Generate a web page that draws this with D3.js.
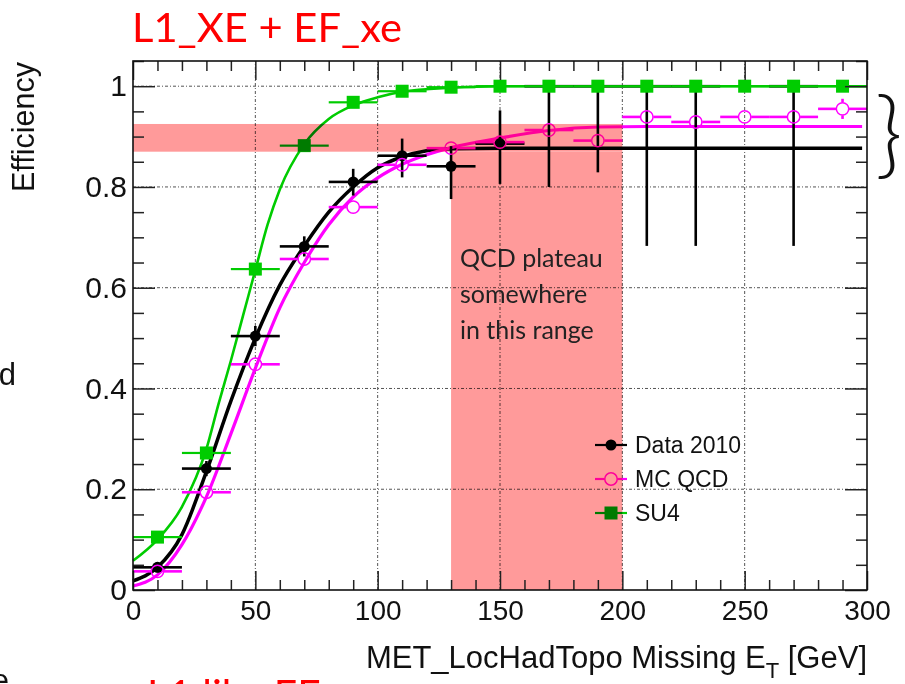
<!DOCTYPE html>
<html>
<head>
<meta charset="utf-8">
<script src="https://cdn.jsdelivr.net/npm/d3@7"></script>
<style>
    html, body { margin: 0; padding: 0; background: #fff; }
    svg { display: block; }
    .axis text { font-family: "Liberation Sans", Arial, sans-serif; fill: #111; }
    .axis line { stroke: #222; stroke-width: 1.5; }
    .axis path { display: none; }
</style>
</head>
<body>
<div id="chart"></div>
<script>
/* -----------------------------
   1. Data
------------------------------*/
const binCenters = [10, 30, 50, 70, 90, 110, 130, 150, 170, 190, 210, 230, 250, 270, 290];
const binWidth = 20;

// Data 2010 (null = empty bin)
const data2010        = [0.045, 0.241, 0.504, 0.682, 0.810, 0.862, 0.841, 0.886, 1, 1, 1, 1, null, 1, null];
const data2010ErrLow  = [0.010, 0.015, 0.020, 0.020, 0.027, 0.043, 0.065, 0.080, 0.200, 0.171, 0.317, 0.317, null, 0.317, null];
const data2010ErrHigh = [0.010, 0.015, 0.020, 0.020, 0.026, 0.034, 0.040, 0.066, 0, 0, 0, 0, null, 0, null];

// MC QCD
const mcQcd    = [0.037, 0.194, 0.448, 0.657, 0.760, 0.844, 0.877, 0.889, 0.913, 0.892, 0.939, 0.929, 0.939, 0.939, 0.955];
const mcQcdErr = [0.005, 0.010, 0.012, 0.012, 0.012, 0.012, 0.012, 0.012, 0.012, 0.012, 0.012, 0.012, 0.012, 0.012, 0.020];

// SU4
const su4    = [0.105, 0.272, 0.637, 0.882, 0.968, 0.990, 0.998, 1, 1, 1, 1, 1, 1, 1, 1];
const su4Err = [0.006, 0.008, 0.008, 0.006, 0.004, 0.003, 0.002, 0, 0, 0, 0, 0, 0, 0, 0];

// fitted turn-on curves
const data2010FitX = [0, 10, 20, 30, 40, 50, 60, 70, 80, 90, 100, 110, 120, 130, 150, 298];
const data2010FitY = [0.018, 0.045, 0.110, 0.235, 0.375, 0.500, 0.605, 0.683, 0.750, 0.800, 0.838, 0.860, 0.872, 0.876, 0.877, 0.877];
const mcQcdFitX = [0, 10, 20, 30, 40, 50, 60, 70, 80, 90, 100, 110, 120, 130, 150, 170, 190, 210, 298];
const mcQcdFitY = [0.008, 0.030, 0.090, 0.185, 0.310, 0.440, 0.560, 0.650, 0.725, 0.780, 0.818, 0.845, 0.864, 0.878, 0.897, 0.912, 0.919, 0.920, 0.920];
const su4FitX = [0, 10, 20, 30, 35, 40, 45, 50, 55, 60, 70, 80, 90, 100, 110, 130, 150, 300];
const su4FitY = [0.058, 0.100, 0.165, 0.280, 0.370, 0.455, 0.545, 0.635, 0.725, 0.795, 0.885, 0.935, 0.962, 0.978, 0.989, 0.997, 1.000, 1.000];

// axes
const xMajorTicks = [0, 50, 100, 150, 200, 250, 300];
const xMinorTicks = [10, 20, 30, 40, 60, 70, 80, 90, 110, 120, 130, 140, 160, 170, 180, 190, 210, 220, 230, 240, 260, 270, 280, 290];
const yMajorTicks = [0, 0.2, 0.4, 0.6, 0.8, 1];
const yTickLabels = ["0", "0.2", "0.4", "0.6", "0.8", "1"];
const yMinorTicks = [0.05, 0.1, 0.15, 0.25, 0.3, 0.35, 0.45, 0.5, 0.55, 0.65, 0.7, 0.75, 0.85, 0.9, 0.95, 1.05];

// highlighted QCD plateau region
const plateauBand  = [0.87, 0.925];
const plateauRange = [130, 200];

const legendLabels = ["Data 2010", "MC QCD", "SU4"];
const qcdNote = ["QCD plateau", "somewhere", "in this range"];

/* -----------------------------
   2. Canvas + scales
------------------------------*/
const W = 905, H = 684;
const svg = d3.select('#chart').append('svg')
    .attr('width', W).attr('height', H)
    .attr('viewBox', `0 0 ${W} ${H}`);

svg.append('rect').attr('width', W).attr('height', H).attr('fill', '#fff');

const x = d3.scaleLinear().domain([0, 300]).range([133, 867]);
const y = d3.scaleLinear().domain([0, 1.05]).range([590, 61]);

const BLACK = '#000', MAGENTA = '#ff00ff', GREEN = '#00cc00';

/* -----------------------------
   3. Grid
------------------------------*/
const grid = svg.append('g')
    .attr('stroke', '#555')
    .attr('stroke-width', 1)
    .attr('stroke-dasharray', '3,2,1,2');

grid.selectAll('.gx')
    .data(xMajorTicks.slice(1, -1))
    .join('line')
    .attr('x1', d => x(d)).attr('x2', d => x(d))
    .attr('y1', y(0)).attr('y2', y(1.05));

grid.selectAll('.gy')
    .data(yMajorTicks.slice(1))
    .join('line')
    .attr('x1', x(0)).attr('x2', x(300))
    .attr('y1', d => y(d)).attr('y2', d => y(d));

/* -----------------------------
   4. Fit curves
------------------------------*/
const fitLine = d3.line()
    .x(d => x(d[0]))
    .y(d => y(d[1]))
    .curve(d3.curveMonotoneX);

function drawFit(xs, ys, color, width) {
    svg.append('path')
        .attr('d', fitLine(d3.zip(xs, ys)))
        .attr('fill', 'none')
        .attr('stroke', color)
        .attr('stroke-width', width);
}

drawFit(data2010FitX, data2010FitY, BLACK, 3.5);
drawFit(mcQcdFitX, mcQcdFitY, MAGENTA, 3.2);
drawFit(su4FitX, su4FitY, GREEN, 2.6);

/* -----------------------------
   5. Points with error bars
------------------------------*/
// error bars stop at the marker edge (gap = marker radius), like ROOT does
function drawSeries(vals, errLo, errHi, color, width, gap) {
    const pts = binCenters
        .map((c, i) => ({ c: c, v: vals[i], lo: errLo[i], hi: errHi[i] }))
        .filter(d => d.v !== null);

    const segs = [];
    pts.forEach(d => {
        const cx = x(d.c), cy = y(d.v);
        segs.push([x(d.c - binWidth / 2), cy, cx - gap, cy]);
        segs.push([cx + gap, cy, x(d.c + binWidth / 2), cy]);
        if (y(d.v + d.hi) < cy - gap) segs.push([cx, y(d.v + d.hi), cx, cy - gap]);
        if (y(d.v - d.lo) > cy + gap) segs.push([cx, cy + gap, cx, y(d.v - d.lo)]);
    });

    svg.append('g').attr('stroke', color).attr('stroke-width', width)
        .selectAll('line')
        .data(segs)
        .join('line')
        .attr('x1', s => s[0]).attr('y1', s => s[1])
        .attr('x2', s => s[2]).attr('y2', s => s[3]);

    return pts;
}

const blackPts = drawSeries(data2010, data2010ErrLow, data2010ErrHigh, BLACK, 2.6, 0);
svg.append('g').selectAll('circle')
    .data(blackPts)
    .join('circle')
    .attr('cx', d => x(d.c)).attr('cy', d => y(d.v))
    .attr('r', 5.5)
    .attr('fill', BLACK);

const mcPts = drawSeries(mcQcd, mcQcdErr, mcQcdErr, MAGENTA, 2.6, 6.5);
svg.append('g').selectAll('circle')
    .data(mcPts)
    .join('circle')
    .attr('cx', d => x(d.c)).attr('cy', d => y(d.v))
    .attr('r', 6.2)
    .attr('fill', 'none')
    .attr('stroke', MAGENTA)
    .attr('stroke-width', 1.5);

const su4Pts = drawSeries(su4, su4Err, su4Err, GREEN, 2.2, 0);
svg.append('g').selectAll('rect')
    .data(su4Pts)
    .join('rect')
    .attr('x', d => x(d.c) - 6.5).attr('y', d => y(d.v) - 6.5)
    .attr('width', 13).attr('height', 13)
    .attr('fill', GREEN);

/* -----------------------------
   6. Legend
------------------------------*/
const legendColors = [BLACK, MAGENTA, GREEN];
const legend = svg.append('g');
const item = legend.selectAll('g')
    .data(legendLabels)
    .join('g')
    .attr('transform', (d, i) => `translate(611, ${445 + i * 34})`);

item.append('line')
    .attr('x1', -16).attr('x2', 16)
    .attr('stroke', (d, i) => legendColors[i])
    .attr('stroke-width', 2.2);

item.each(function (d, i) {
    const it = d3.select(this);
    if (i === 0) it.append('circle').attr('r', 5.5).attr('fill', BLACK);
    if (i === 1) it.append('circle').attr('r', 6.2).attr('fill', '#fff').attr('stroke', MAGENTA).attr('stroke-width', 1.5);
    if (i === 2) it.append('rect').attr('x', -6.5).attr('y', -6.5).attr('width', 13).attr('height', 13).attr('fill', GREEN);
});

item.append('text')
    .attr('x', 24).attr('dy', '0.36em')
    .attr('font-family', '"Liberation Sans", Arial, sans-serif')
    .attr('font-size', 23)
    .attr('fill', '#111')
    .text(d => d);

/* -----------------------------
   7. QCD plateau shading (multiplied over the plot)
------------------------------*/
const shade = svg.append('g').style('mix-blend-mode', 'multiply');
shade.append('rect')
    .attr('x', x(0)).attr('width', x(plateauRange[1]) - x(0))
    .attr('y', y(plateauBand[1])).attr('height', y(plateauBand[0]) - y(plateauBand[1]))
    .attr('fill', '#ff9a9a');
shade.append('rect')
    .attr('x', x(plateauRange[0])).attr('width', x(plateauRange[1]) - x(plateauRange[0]))
    .attr('y', y(plateauBand[0])).attr('height', y(0) - y(plateauBand[0]))
    .attr('fill', '#ff9a9a');

svg.append('g').selectAll('text')
    .data(qcdNote)
    .join('text')
    .attr('x', 460)
    .attr('y', (d, i) => 267 + i * 36)
    .attr('font-family', 'Lato, "Open Sans", sans-serif')
    .attr('font-size', 25)
    .attr('fill', '#222')
    .text(d => d);

/* -----------------------------
   8. Axes + frame
------------------------------*/
svg.append('g').attr('class', 'axis')
    .attr('transform', `translate(0, ${y(0)})`)
    .call(d3.axisBottom(x).tickValues(xMajorTicks).tickSize(-19).tickPadding(10).tickFormat(d3.format('d')))
    .selectAll('text').attr('font-size', 28);
svg.append('g').attr('class', 'axis')
    .attr('transform', `translate(0, ${y(0)})`)
    .call(d3.axisBottom(x).tickValues(xMinorTicks).tickSize(-10).tickFormat(''));
svg.append('g').attr('class', 'axis')
    .attr('transform', `translate(0, ${y(1.05)})`)
    .call(d3.axisTop(x).tickValues(xMajorTicks).tickSize(-19).tickFormat(''));
svg.append('g').attr('class', 'axis')
    .attr('transform', `translate(0, ${y(1.05)})`)
    .call(d3.axisTop(x).tickValues(xMinorTicks).tickSize(-10).tickFormat(''));

svg.append('g').attr('class', 'axis')
    .attr('transform', `translate(${x(0)}, 0)`)
    .call(d3.axisLeft(y).tickValues(yMajorTicks).tickSize(-22).tickPadding(6)
        .tickFormat((d, i) => yTickLabels[i]))
    .selectAll('text').attr('font-size', 30);
svg.append('g').attr('class', 'axis')
    .attr('transform', `translate(${x(0)}, 0)`)
    .call(d3.axisLeft(y).tickValues(yMinorTicks).tickSize(-11).tickFormat(''));
svg.append('g').attr('class', 'axis')
    .attr('transform', `translate(${x(300)}, 0)`)
    .call(d3.axisRight(y).tickValues(yMajorTicks).tickSize(-22).tickFormat(''));
svg.append('g').attr('class', 'axis')
    .attr('transform', `translate(${x(300)}, 0)`)
    .call(d3.axisRight(y).tickValues(yMinorTicks).tickSize(-11).tickFormat(''));

svg.append('rect')
    .attr('x', x(0)).attr('y', y(1.05))
    .attr('width', x(300) - x(0)).attr('height', y(0) - y(1.05))
    .attr('fill', 'none')
    .attr('stroke', '#111')
    .attr('stroke-width', 1.6);

// axis titles
const xTitle = svg.append('text')
    .attr('x', 867).attr('y', 668)
    .attr('text-anchor', 'end')
    .attr('font-family', '"Liberation Sans", Arial, sans-serif')
    .attr('font-size', 31)
    .attr('fill', '#111');
xTitle.append('tspan').text('MET_LocHadTopo Missing E');
xTitle.append('tspan').attr('font-size', 22).attr('dy', 10).text('T');
xTitle.append('tspan').attr('dy', -10).text(' [GeV]');

svg.append('text')
    .attr('transform', 'translate(34, 62) rotate(-90)')
    .attr('text-anchor', 'end')
    .attr('font-family', '"Liberation Sans", Arial, sans-serif')
    .attr('font-size', 30.5)
    .attr('fill', '#111')
    .text('Efficiency');

/* -----------------------------
   9. Slide annotations
------------------------------*/
svg.append('text')
    .attr('x', 132).attr('y', 42)
    .attr('font-family', 'Lato, "Open Sans", sans-serif')
    .attr('font-size', 41)
    .attr('fill', '#ff0000')
    .attr('textLength', 270)
    .attr('lengthAdjust', 'spacingAndGlyphs')
    .text('L1_XE + EF_xe');

svg.append('text')
    .attr('x', 875).attr('y', 166)
    .attr('font-family', 'Lato, "Open Sans", sans-serif')
    .attr('font-weight', 300)
    .attr('font-size', 94)
    .attr('fill', '#111')
    .text('}');

svg.append('text')
    .attr('x', 16).attr('y', 385)
    .attr('text-anchor', 'end')
    .attr('font-family', '"Liberation Sans", Arial, sans-serif')
    .attr('font-size', 31)
    .attr('fill', '#111')
    .text('d');

svg.append('text')
    .attr('x', 9).attr('y', 691)
    .attr('text-anchor', 'end')
    .attr('font-family', '"Liberation Sans", Arial, sans-serif')
    .attr('font-size', 31)
    .attr('fill', '#111')
    .text('e');

svg.append('text')
    .attr('x', 147).attr('y', 709)
    .attr('font-family', 'Lato, "Open Sans", sans-serif')
    .attr('font-size', 41)
    .attr('fill', '#ff0000')
    .text('L1 like EF');
</script>
</body>
</html>
